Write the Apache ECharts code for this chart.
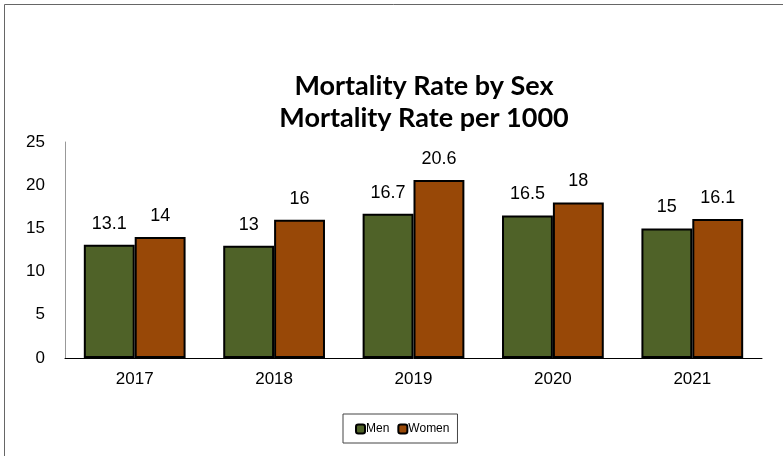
<!DOCTYPE html>
<html>
<head>
<meta charset="utf-8">
<script src="https://cdn.jsdelivr.net/npm/echarts@6/dist/echarts.min.js"></script>
<style>
  html, body { margin: 0; padding: 0; background: #fff; }
  #chart { width: 783px; height: 456px; }
</style>
</head>
<body>
<div id="chart"></div>
<script>
var years = ['2017', '2018', '2019', '2020', '2021']
var men = [13.1, 13, 16.7, 16.5, 15]
var women = [14, 16, 20.6, 18, 16.1]

var myChart = echarts.init(document.getElementById('chart'))

var labelStyle = {
  show: true,
  position: 'top',
  distance: 12,
  fontFamily: 'Liberation Sans',
  fontSize: 18,
  color: '#000'
}

var titleStyle = {
  fontFamily: 'Lato',
  fontWeight: 'bold',
  fontSize: 27,
  fill: '#000',
  textAlign: 'center',
  textVerticalAlign: 'middle'
}

var option = {
  animation: false,
  graphic: [
    // frame of the chart (only top and left are visible in the crop)
    { type: 'line', shape: { x1: 4.5, y1: 4.5, x2: 783, y2: 4.5 }, style: { stroke: '#666', lineWidth: 1 } },
    { type: 'line', shape: { x1: 4.5, y1: 4.5, x2: 4.5, y2: 456 }, style: { stroke: '#666', lineWidth: 1 } },
    // title, centred on the uncropped chart
    { type: 'text', x: 424, y: 86, style: Object.assign({ text: 'Mortality Rate by Sex' }, titleStyle) },
    { type: 'text', x: 424, y: 118, style: Object.assign({ text: 'Mortality Rate per 1000' }, titleStyle) }
  ],
  legend: {
    bottom: 13,
    left: 343,
    itemWidth: 9,
    itemHeight: 9,
    itemGap: 8,
    padding: [9, 8, 8, 12],
    borderColor: '#444',
    borderWidth: 1,
    textStyle: { fontFamily: 'Liberation Sans', fontSize: 12, color: '#000', padding: [0, 0, 0, -4] },
    data: ['Men', 'Women']
  },
  grid: { left: 65, right: 21, top: 142, bottom: 98 },
  xAxis: {
    type: 'category',
    data: years,
    axisTick: { show: false },
    axisLine: { lineStyle: { color: '#000', width: 1 } },
    axisLabel: { fontFamily: 'Liberation Sans', fontSize: 17, color: '#000', margin: 13 }
  },
  yAxis: {
    type: 'value',
    min: 0,
    max: 25,
    interval: 5,
    splitLine: { show: false },
    axisTick: { show: false },
    axisLine: { show: true, lineStyle: { color: '#999', width: 1 } },
    axisLabel: { fontFamily: 'Liberation Sans', fontSize: 17, color: '#000', margin: 20 }
  },
  series: [
    {
      name: 'Men',
      type: 'bar',
      data: men,
      barGap: '0%',
      barCategoryGap: '27%',
      itemStyle: { color: '#4F6228', borderColor: '#000', borderWidth: 2 },
      label: labelStyle
    },
    {
      name: 'Women',
      type: 'bar',
      data: women,
      itemStyle: { color: '#984807', borderColor: '#000', borderWidth: 2 },
      label: labelStyle
    }
  ]
}

myChart.setOption(option)
</script>
</body>
</html>
